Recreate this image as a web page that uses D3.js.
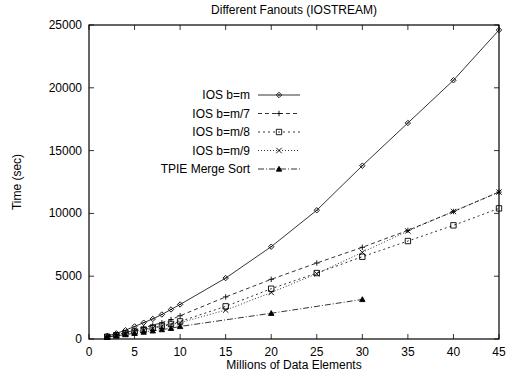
<!DOCTYPE html>
<html>
<head>
<meta charset="utf-8">
<script src="https://cdn.jsdelivr.net/npm/d3@7"></script>
<style>
  body { margin: 0; background: #fff; }
  text { font-family: "Liberation Sans", Arial, sans-serif; font-size: 12px; fill: #000; }
</style>
</head>
<body>
<div id="chart"></div>
<script>
const W = 507, H = 372
const margin = { top: 25, right: 8, bottom: 33, left: 89 }

// millions of elements
const xsIOS = [2, 3, 4, 5, 6, 7, 8, 9, 10, 15, 20, 25, 30, 35, 40, 45]
const xsTPIE = [2, 3, 4, 5, 6, 7, 8, 9, 10, 20, 30]

const iosM = [250, 450, 700, 1000, 1300, 1600, 1950, 2350, 2750, 4850, 7350, 10250, 13800, 17200, 20600, 24600]
const iosM7 = [200, 350, 500, 700, 900, 1100, 1300, 1550, 1850, 3350, 4750, 6050, 7300, 8650, 10150, 11700]
const iosM8 = [180, 300, 450, 600, 750, 900, 1050, 1200, 1400, 2600, 4000, 5250, 6550, 7800, 9050, 10400]
const iosM9 = [170, 280, 420, 560, 700, 850, 1000, 1150, 1300, 2300, 3700, 5200, 6900, 8600, 10150, 11700]
const tpie = [150, 250, 350, 450, 550, 650, 750, 850, 1000, 2050, 3150]

const xTicks = [0, 5, 10, 15, 20, 25, 30, 35, 40, 45]
const yTicks = [0, 5000, 10000, 15000, 20000, 25000]

const series = [
  { name: 'IOS b=m', xs: xsIOS, ys: iosM, dash: null, mark: 'diamond' },
  { name: 'IOS b=m/7', xs: xsIOS, ys: iosM7, dash: '4,3', mark: 'plus' },
  { name: 'IOS b=m/8', xs: xsIOS, ys: iosM8, dash: '2,3', mark: 'square' },
  { name: 'IOS b=m/9', xs: xsIOS, ys: iosM9, dash: '1,2', mark: 'cross' },
  { name: 'TPIE Merge Sort', xs: xsTPIE, ys: tpie, dash: '6,2,1,2', mark: 'triangle' }
]

const svg = d3.select('#chart').append('svg')
  .attr('width', W)
  .attr('height', H)

const x = d3.scaleLinear().domain([0, 45]).range([margin.left, W - margin.right])
const y = d3.scaleLinear().domain([0, 25000]).range([H - margin.bottom, margin.top])

// frame
svg.append('rect')
  .attr('x', x(0)).attr('y', y(25000))
  .attr('width', x(45) - x(0)).attr('height', y(0) - y(25000))
  .attr('fill', 'none').attr('stroke', '#000').attr('stroke-width', 1.2)

const tl = 5
const ticks = svg.append('g').attr('stroke', '#000').attr('stroke-width', 0.8)
xTicks.forEach(t => {
  ticks.append('line').attr('x1', x(t)).attr('x2', x(t)).attr('y1', y(0)).attr('y2', y(0) - tl)
  ticks.append('line').attr('x1', x(t)).attr('x2', x(t)).attr('y1', y(25000)).attr('y2', y(25000) + tl)
})
yTicks.forEach(t => {
  ticks.append('line').attr('x1', x(0)).attr('x2', x(0) + tl).attr('y1', y(t)).attr('y2', y(t))
  ticks.append('line').attr('x1', x(45)).attr('x2', x(45) - tl).attr('y1', y(t)).attr('y2', y(t))
})

svg.append('g').selectAll('text').data(xTicks).enter().append('text')
  .attr('x', d => x(d)).attr('y', y(0) + 17)
  .attr('text-anchor', 'middle')
  .text(d => d)

svg.append('g').selectAll('text').data(yTicks).enter().append('text')
  .attr('x', x(0) - 7).attr('y', d => y(d) + 4)
  .attr('text-anchor', 'end')
  .text(d => d)

svg.append('text')
  .attr('x', (x(0) + x(45)) / 2).attr('y', 14)
  .attr('text-anchor', 'middle')
  .text('Different Fanouts (IOSTREAM)')

svg.append('text')
  .attr('x', (x(0) + x(45)) / 2).attr('y', H - 3)
  .attr('text-anchor', 'middle')
  .text('Millions of Data Elements')

svg.append('text')
  .attr('transform', `translate(21, ${(y(0) + y(25000)) / 2}) rotate(-90)`)
  .attr('text-anchor', 'middle')
  .text('Time (sec)')

function marker(g, kind, cx, cy) {
  const s = 2.7
  const p = g.append('path').attr('fill', 'none').attr('stroke', '#000').attr('stroke-width', 0.9)
  if (kind == 'diamond') {
    p.attr('d', `M${cx - s},${cy}L${cx},${cy - s}L${cx + s},${cy}L${cx},${cy + s}Z M${cx - 1},${cy}h2`)
  } else if (kind == 'plus') {
    p.attr('d', `M${cx - s},${cy}h${2 * s}M${cx},${cy - s}v${2 * s}`)
  } else if (kind == 'square') {
    p.attr('d', `M${cx - s},${cy - s}h${2 * s}v${2 * s}h${-2 * s}Z`)
  } else if (kind == 'cross') {
    p.attr('d', `M${cx - s},${cy - s}L${cx + s},${cy + s}M${cx - s},${cy + s}L${cx + s},${cy - s}`)
  } else {
    p.attr('d', `M${cx},${cy - s}L${cx + s},${cy + s * 0.8}L${cx - s},${cy + s * 0.8}Z`).attr('fill', '#000')
  }
}

const line = d3.line().x(d => x(d[0])).y(d => y(d[1]))

series.forEach((s, i) => {
  const g = svg.append('g')
  const pts = s.xs.map((v, j) => [v, s.ys[j]])
  g.append('path')
    .datum(pts)
    .attr('d', line)
    .attr('fill', 'none')
    .attr('stroke', '#000')
    .attr('stroke-width', 0.8)
    .attr('stroke-dasharray', s.dash)
  pts.forEach(p => marker(g, s.mark, x(p[0]), y(p[1])))

  // legend entry
  const ly = 95 + i * 18.5
  g.append('text')
    .attr('x', 250).attr('y', ly + 4)
    .attr('text-anchor', 'end')
    .text(s.name)
  g.append('line')
    .attr('x1', 258).attr('x2', 300).attr('y1', ly).attr('y2', ly)
    .attr('stroke', '#000').attr('stroke-width', 0.8)
    .attr('stroke-dasharray', s.dash)
  marker(g, s.mark, 279, ly)
})
</script>
</body>
</html>
